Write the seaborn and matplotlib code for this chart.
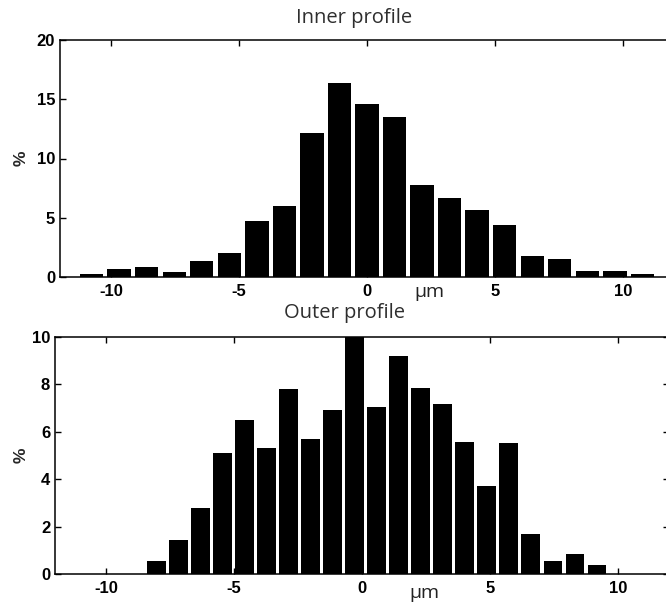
import matplotlib
matplotlib.use("Agg")
import matplotlib.pyplot as plt
import seaborn as sns

# ---- data ----
inner_centers = [-10.76, -9.69, -8.61, -7.53, -6.46, -5.38, -4.30, -3.23, -2.15, -1.08, 0.0,
                 1.08, 2.15, 3.23, 4.30, 5.38, 6.46, 7.53, 8.61, 9.69, 10.76]
inner_pct = [0.25, 0.68, 0.82, 0.39, 1.35, 2.0, 4.73, 6.02, 12.18, 16.34, 14.57,
             13.5, 7.76, 6.69, 5.63, 4.39, 1.74, 1.49, 0.53, 0.53, 0.25]

outer_centers = [-8.02, -7.16, -6.30, -5.44, -4.58, -3.72, -2.86, -2.00, -1.14, -0.28, 0.58,
                 1.44, 2.30, 3.16, 4.02, 4.88, 5.74, 6.60, 7.46, 8.32, 9.18]
outer_pct = [0.575, 1.44, 2.78, 5.09, 6.51, 5.30, 7.78, 5.71, 6.90, 10.0, 7.04,
             9.17, 7.84, 7.18, 5.58, 3.70, 5.51, 1.71, 0.575, 0.84, 0.38]

x_ticks = [-10, -5, 0, 5, 10]
x_ticklabels = ["-10", "-5", "0", "5", "10"]
inner_yticks = [0, 5, 10, 15, 20]
outer_yticks = [0, 2, 4, 6, 8, 10]

titles = ["Inner profile", "Outer profile"]
unit_label = "µm"
y_label = "%"

# ---- style ----
sns.set_style("ticks")
plt.rcParams["font.family"] = ["Liberation Sans Narrow", "Liberation Sans", "DejaVu Sans"]

W, H = 666, 602
fig = plt.figure(figsize=(W / 100, H / 100), dpi=100)

tick_family = ["Liberation Sans Narrow", "Liberation Sans", "DejaVu Sans"]
tick_font = dict(family=tick_family, weight="bold", size=12)
label_font = ["Open Sans", "Lato", "DejaVu Sans"]

def px_axes(left, top, right, bottom):
    return fig.add_axes([left / W, 1 - bottom / H, (right - left) / W, (bottom - top) / H])

panels = [
    dict(rect=(60, 40, 674, 277), centers=inner_centers, pct=inner_pct, ylim=(0, 20),
         yticks=inner_yticks, title=titles[0], title_xy=(354, 18), unit_xy=(429, 292)),
    dict(rect=(55, 336.7, 669, 574.3), centers=outer_centers, pct=outer_pct, ylim=(0, 10),
         yticks=outer_yticks, title=titles[1], title_xy=(345, 313), unit_xy=(424, 593)),
]

for p in panels:
    l, t, r, b = p["rect"]
    ax = px_axes(l, t, r, b)
    sns.barplot(x=p["centers"], y=p["pct"], native_scale=True, width=0.85,
                color="black", saturation=1, linewidth=0, errorbar=None, ax=ax)
    ax.set_xlim(-12, 12)
    ax.set_ylim(*p["ylim"])
    ax.set_xticks(x_ticks)
    ax.set_xticklabels(x_ticklabels, fontdict=tick_font)
    ax.set_yticks(p["yticks"])
    ax.set_yticklabels([str(v) for v in p["yticks"]], fontdict=tick_font)
    ax.tick_params(axis="both", direction="in", length=4.5, width=1, colors="black",
                   top=True, right=True)
    ax.tick_params(axis="x", pad=5)
    ax.tick_params(axis="y", pad=3.5)
    for s in ax.spines.values():
        s.set_visible(True)
        s.set_linewidth(1.1)
        s.set_color("black")
    ax.set_ylabel(y_label, fontdict=dict(family=tick_family, weight="bold", size=12.5))
    ax.yaxis.set_label_coords((29 - l) / (r - l), 0.5)
    ax.set_xlabel("")
    tx, ty = p["title_xy"]
    fig.text(tx / W, 1 - ty / H, p["title"], ha="center", va="center",
             family=label_font, fontsize=14.5, color="#2e2e2e")
    ux, uy = p["unit_xy"]
    fig.text(ux / W, 1 - uy / H, unit_label, ha="center", va="center",
             family=label_font, fontsize=14, color="#222222")

fig.savefig("out.png", dpi=100)
